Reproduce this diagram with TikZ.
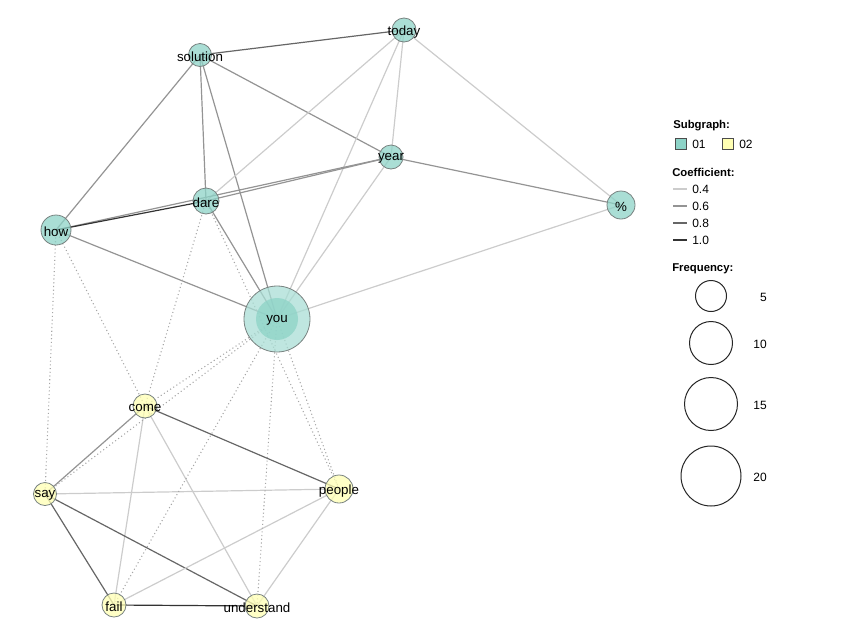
\documentclass[tikz,border=0pt]{standalone}
\usepackage{fontspec}
\setmainfont{Liberation Sans}
\usetikzlibrary{backgrounds}
\definecolor{sgone}{RGB}{141,211,199}
\definecolor{sgtwo}{RGB}{255,255,179}
\definecolor{rimgray}{RGB}{120,130,128}
\tikzset{
  word/.style={circle, draw=rimgray, line width=0.6pt, fill=#1, fill opacity=0.75, inner sep=0pt},
  rad/.style={minimum size=#1*0.75pt},
  every label/.style={inner sep=0pt, yshift=-1.2pt, text opacity=1, font=\fontsize{10}{12}\selectfont},
  cf4/.style={draw=black!20, line width=0.9pt},
  cf6/.style={draw=black!42, line width=0.9pt},
  cf8/.style={draw=black!60, line width=0.9pt},
  cf10/.style={draw=black!80, line width=0.9pt},
  weak/.style={draw=black!35, line width=0.8pt, dotted},
  legtitle/.style={anchor=west, inner sep=0pt, font=\bfseries\fontsize{8.5}{10}\selectfont},
  legtext/.style={anchor=west, inner sep=0pt, font=\fontsize{9}{10}\selectfont},
  freq/.style={circle, draw=black!85, line width=0.75pt, inner sep=0pt},
}
\begin{document}
\begin{tikzpicture}[x=0.75pt,y=0.75pt,yscale=-1,xscale=1]
    \useasboundingbox (0,0) rectangle (853,640);
    % subgraph 01
    \node[word=sgone!75, rad=66] (you) at (277,319) {};
    \node[circle, fill=sgone, fill opacity=0.75, inner sep=0pt, rad=42, label={center:you}] (youcore) at (you) {};
    \node[word=sgone, rad=24, label={center:today}] (today) at (404,30) {};
    \node[word=sgone, rad=23, label={center:solution}] (solution) at (200,55) {};
    \node[word=sgone, rad=24, label={center:year}] (year) at (391,157) {};
    \node[word=sgone, rad=26, label={center:dare}] (dare) at (206,201) {};
    \node[word=sgone, rad=30, label={center:how}] (how) at (56,230) {};
    \node[word=sgone, rad=28, label={center:\%}] (pct) at (621,205) {};
    % subgraph 02
    \node[word=sgtwo, rad=24, label={center:come}] (come) at (145,406) {};
    \node[word=sgtwo, rad=23, label={center:say}] (say) at (45,494) {};
    \node[word=sgtwo, rad=28, label={center:people}] (people) at (339,489) {};
    \node[word=sgtwo, rad=24, label={center:fail}] (fail) at (114,605) {};
    \node[word=sgtwo, rad=24, label={center:understand}] (understand) at (257,606) {};

    \begin{pgfonlayer}{background}
    % within 01
    \draw[cf8] (solution.center) -- (today.center);
    \draw[cf6] (solution.center) -- (how.center);
    \draw[cf6] (solution.center) -- (dare.center);
    \draw[cf6] (solution.center) -- (you.center);
    \draw[cf6] (solution.center) -- (year.center);
    \draw[cf4] (today.center) -- (dare.center);
    \draw[cf4] (today.center) -- (you.center);
    \draw[cf4] (today.center) -- (year.center);
    \draw[cf4] (today.center) -- (pct.center);
    \draw[cf6] (how.center) -- (year.center);
    \draw[cf10] (how.center) -- (dare.center);
    \draw[cf6] (dare.center) -- (year.center);
    \draw[cf6] (year.center) -- (pct.center);
    \draw[cf4] (year.center) -- (you.center);
    \draw[cf6] (dare.center) -- (you.center);
    \draw[cf6] (how.center) -- (you.center);
    \draw[cf4] (pct.center) -- (you.center);
    % within 02
    \draw[cf6] (come.center) -- (say.center);
    \draw[cf8] (come.center) -- (people.center);
    \draw[cf4] (come.center) -- (fail.center);
    \draw[cf4] (come.center) -- (understand.center);
    \draw[cf4] (say.center) -- (people.center);
    \draw[cf8] (say.center) -- (fail.center);
    \draw[cf8] (say.center) -- (understand.center);
    \draw[cf10] (fail.center) -- (understand.center);
    \draw[cf4] (fail.center) -- (people.center);
    \draw[cf4] (people.center) -- (understand.center);
    % between 01 and 02
    \draw[weak] (how.center) -- (say.center);
    \draw[weak] (how.center) -- (come.center);
    \draw[weak] (dare.center) -- (come.center);
    \draw[weak] (dare.center) -- (people.center);
    \draw[weak] (you.center) -- (come.center);
    \draw[weak] (you.center) -- (say.center);
    \draw[weak] (you.center) -- (fail.center);
    \draw[weak] (you.center) -- (understand.center);
    \draw[weak] (you.center) -- (people.center);
    \end{pgfonlayer}

    % legend
    \node[legtitle] (subgraph) at (673,126) {Subgraph:};
    \node[draw=black!70, fill=sgone, minimum size=8pt, inner sep=0pt] (key01) at (681,144) {};
    \node[legtext] (lab01) at (692,144) {01};
    \node[draw=black!70, fill=sgtwo, minimum size=8pt, inner sep=0pt] (key02) at (728,144) {};
    \node[legtext] (lab02) at (739,144) {02};

    \node[legtitle] (coef) at (672,172) {Coefficient:};
    \coordinate (c4) at (673,189);
    \coordinate (c6) at (673,206);
    \coordinate (c8) at (673,223);
    \coordinate (c10) at (673,240);
    \node[legtext] (lc4) at (692,189) {0.4};
    \node[legtext] (lc6) at (692,206) {0.6};
    \node[legtext] (lc8) at (692,223) {0.8};
    \node[legtext] (lc10) at (692,240) {1.0};
    \draw[cf4] (c4) -- ++(14,0);
    \draw[cf6] (c6) -- ++(14,0);
    \draw[cf8] (c8) -- ++(14,0);
    \draw[cf10] (c10) -- ++(14,0);

    \node[legtitle] (freqtitle) at (672,269) {Frequency:};
    \node[freq, rad=31] (f5) at (711,296) {};
    \node[freq, rad=43] (f10) at (711,343) {};
    \node[freq, rad=53] (f15) at (711,404) {};
    \node[freq, rad=60] (f20) at (711,476) {};
    \node[legtext, anchor=east] (lf5) at (767,297) {5};
    \node[legtext, anchor=east] (lf10) at (767,344) {10};
    \node[legtext, anchor=east] (lf15) at (767,405) {15};
    \node[legtext, anchor=east] (lf20) at (767,477) {20};
\end{tikzpicture}
\end{document}
